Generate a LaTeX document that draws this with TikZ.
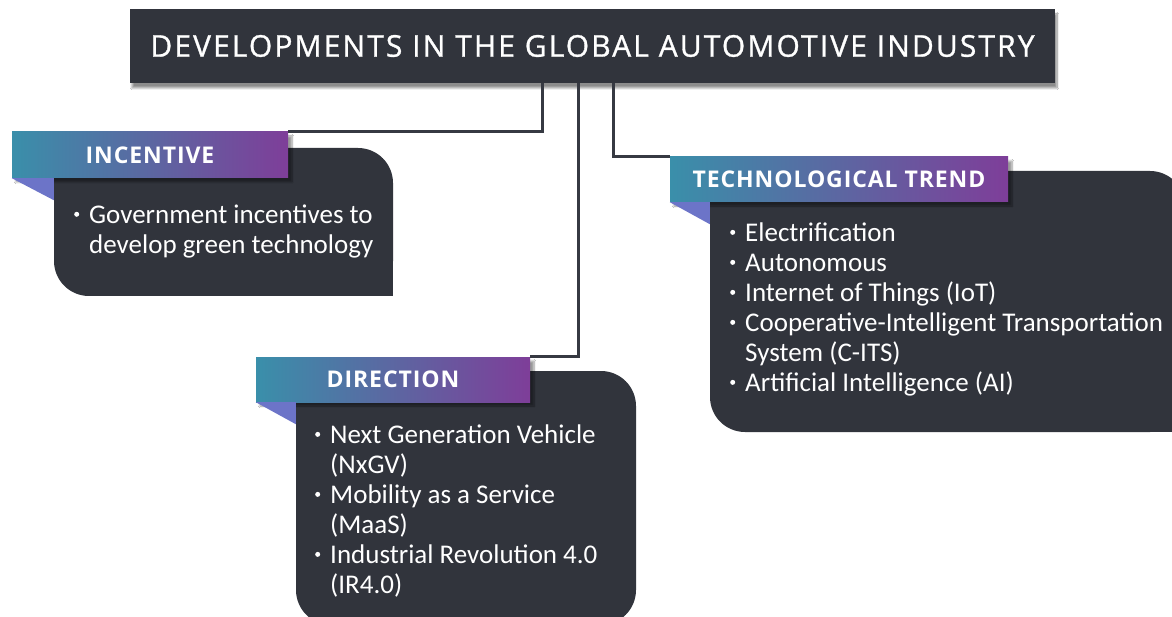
\documentclass[tikz,border=0pt]{standalone}
\usepackage{fontspec}
\setmainfont{Carlito}
\newfontfamily\bannerfont[LetterSpace=4]{Open Sans}
\newfontfamily\titlefont[LetterSpace=7,FakeBold=1]{Open Sans}
\usetikzlibrary{shadows.blur,calc}
\definecolor{darkbox}{HTML}{31343C}
\definecolor{bnLeft}{HTML}{3A8FAA}
\definecolor{bnRight}{HTML}{7E3E99}
\definecolor{foldc}{HTML}{6C74C8}
\definecolor{linec}{HTML}{363942}
\newcommand{\bul}{\makebox[16pt][l]{\hspace{1pt}\raisebox{0.55ex}{\tikz\fill[white] (0,0) circle (2.5pt);}}}
\newcommand{\cont}{\hspace*{16pt}}
\tikzset{
  titlebox/.style={fill=darkbox, text=white, minimum width=925pt, minimum height=74pt, inner sep=0pt,
    font=\titlefont\fontsize{30}{34}\selectfont,
    blur shadow={shadow xshift=2pt, shadow yshift=-5pt, shadow blur steps=10, shadow opacity=45}},
  panel/.style={fill=darkbox, rounded corners=35pt, inner sep=0pt},
  banner/.style={left color=bnLeft, right color=bnRight, text=white, inner sep=0pt,
    font=\bannerfont\bfseries\fontsize{23}{26}\selectfont,
    blur shadow={shadow xshift=4pt, shadow yshift=-4pt, shadow blur steps=8, shadow opacity=40}},
  conn/.style={draw=linec, line width=3pt},
  items/.style={text=white, align=left, inner sep=0pt, font=\fontsize{27}{30}\selectfont},
  fold/.style={fill=foldc}
}
\begin{document}
\begin{tikzpicture}[x=1pt,y=-1pt]
\useasboundingbox (0,0) rectangle (1172,617);
\clip (0,0) rectangle (1172,617);
\fill[white] (0,0) rectangle (1172,617);

% title
\node[titlebox] (title) at (592.5,46) {DEVELOPMENTS IN THE GLOBAL AUTOMOTIVE INDUSTRY};

% panels
\node[panel, minimum width=339pt, minimum height=148pt] (incbox) at (223.5,222) {};
\fill[darkbox] (incbox.south east) rectangle ++(-40,-40);
\fill[darkbox] (incbox.north west) rectangle ++(40,40);
\node[panel, minimum width=340pt, minimum height=254pt] (dirbox) at (466,498) {};
\fill[darkbox] (dirbox.north west) rectangle ++(40,40);
\node[panel, minimum width=475pt, minimum height=261pt] (tecbox) at (947.5,301.5) {};
\fill[darkbox] (tecbox.north west) rectangle ++(40,40);
\fill[darkbox] (tecbox.south east) rectangle ++(-40,-40);

% banners
\node[banner, minimum width=276pt, minimum height=46pt] (incban) at (150,155) {INCENTIVE};
\node[banner, minimum width=274pt, minimum height=45pt] (dirban) at (393,379.5) {DIRECTION};
\node[banner, minimum width=338pt, minimum height=45pt] (tecban) at (839,179.5) {TECHNOLOGICAL TREND};

% folds
\fill[fold] (incban.south west) -- (incban.south west -| incbox.west) -- ++(0,22) -- cycle;
\fill[fold] (dirban.south west) -- (dirban.south west -| dirbox.west) -- ++(0,22) -- cycle;
\fill[fold] (tecban.south west) -- (tecban.south west -| tecbox.west) -- ++(0,22) -- cycle;

% connectors
\draw[conn] ($(title.south)+(-50.5,0)$) |- (incban.north east);
\draw[conn] ($(title.south)+(-14.5,0)$) |- (dirban.north east);
\draw[conn] ($(title.south)+(20.5,0)$) |- (tecban.north west);

% texts
\node[items, anchor=north west] (inctext) at (73,205) {\bul Government incentives to\\ \cont develop green technology};
\node[items, anchor=north west] (dirtext) at (314,425) {\bul Next Generation Vehicle\\ \cont (NxGV)\\ \bul Mobility as a Service\\ \cont (MaaS)\\ \bul Industrial Revolution 4.0\\ \cont (IR4.0)};
\node[items, anchor=north west] (tectext) at (729,223) {\bul Electrification\\ \bul Autonomous\\ \bul Internet of Things (IoT)\\ \bul Cooperative-Intelligent Transportation\\ \cont System (C-ITS)\\ \bul Artificial Intelligence (AI)};
\end{tikzpicture}
\end{document}
